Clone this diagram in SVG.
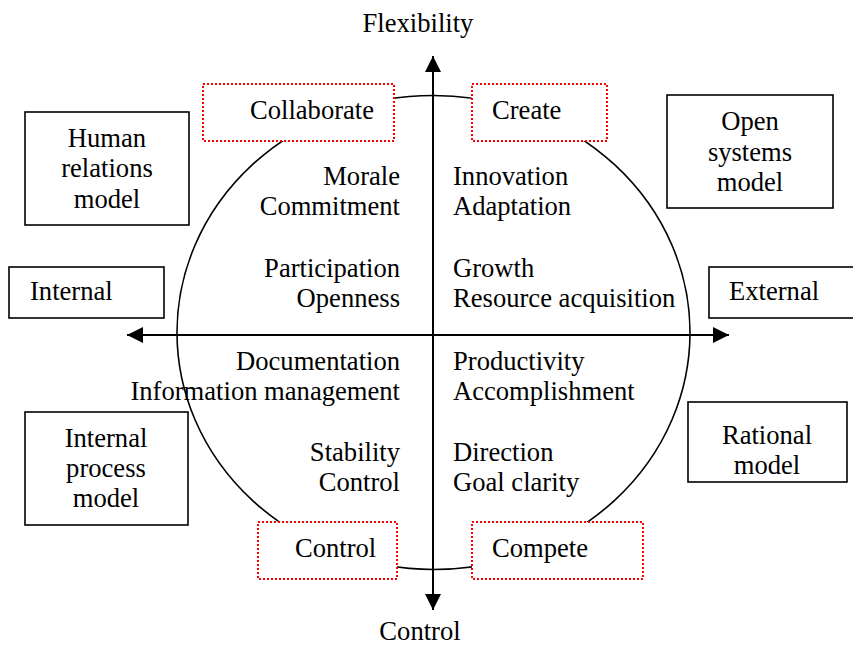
<svg xmlns="http://www.w3.org/2000/svg" width="853" height="645" viewBox="0 0 853 645">
<style>
text{font-family:'Liberation Serif',Tinos,'Times New Roman',Times,'DejaVu Serif',serif;font-size:26.6px;fill:#000}
.box{fill:#fff;stroke:#000;stroke-width:1.6}
.dot{fill:#fff;stroke:#ff0000;stroke-width:2;stroke-dasharray:2 2}
.r{text-anchor:end}
.m{text-anchor:middle}
.axis{stroke:#000;stroke-width:2;fill:none}
</style>
<defs>
<marker id="ah" markerUnits="userSpaceOnUse" markerWidth="18" markerHeight="18" refX="16" refY="8" orient="auto">
<path d="M0,0 L16,8 L0,16 Z" fill="#000"/>
</marker>
</defs>
<rect width="853" height="645" fill="#fff"/>
<ellipse id="circle" cx="433.5" cy="332.5" rx="256.5" ry="237" fill="none" stroke="#000" stroke-width="1.6"/>
<g id="connectors">
<line class="axis" x1="433" y1="335" x2="433" y2="56" marker-end="url(#ah)"/>
<line class="axis" x1="433" y1="335" x2="433" y2="610" marker-end="url(#ah)"/>
<line class="axis" x1="433" y1="335" x2="127" y2="335" marker-end="url(#ah)"/>
<line class="axis" x1="433" y1="335" x2="729" y2="335" marker-end="url(#ah)"/>
</g>
<g id="label-flexibility"><text class="m" x="418" y="32">Flexibility</text></g>
<g id="label-control-axis"><text class="m" x="420" y="640">Control</text></g>
<g id="collaborate"><rect class="dot" x="203" y="84" width="191" height="57"/><text x="250" y="119">Collaborate</text></g>
<g id="create"><rect class="dot" x="472" y="84" width="135" height="57"/><text x="492" y="119">Create</text></g>
<g id="control-box"><rect class="dot" x="258" y="522" width="139" height="57"/><text x="295" y="557">Control</text></g>
<g id="compete"><rect class="dot" x="472" y="522" width="171" height="57"/><text x="492" y="557">Compete</text></g>
<g id="human-relations"><rect class="box" x="25" y="112" width="164" height="113"/>
<text class="m" x="107" y="147">Human</text><text class="m" x="107" y="177">relations</text><text class="m" x="107" y="208">model</text></g>
<g id="open-systems"><rect class="box" x="667" y="95" width="166" height="113"/>
<text class="m" x="750" y="130">Open</text><text class="m" x="750" y="161">systems</text><text class="m" x="750" y="191">model</text></g>
<g id="internal"><rect class="box" x="9" y="267" width="155" height="51"/><text x="30" y="300">Internal</text></g>
<g id="external"><rect class="box" x="709" y="267" width="160" height="51"/><text x="729" y="300">External</text></g>
<g id="internal-process"><rect class="box" x="25" y="412" width="163" height="113"/>
<text class="m" x="106" y="447">Internal</text><text class="m" x="106" y="477">process</text><text class="m" x="106" y="507">model</text></g>
<g id="rational"><rect class="box" x="688" y="402" width="159" height="80"/>
<text class="m" x="767" y="444">Rational</text><text class="m" x="767" y="474">model</text></g>
<g id="q-tl">
<text class="r" x="400" y="185">Morale</text><text class="r" x="400" y="215">Commitment</text>
<text class="r" x="400" y="277">Participation</text><text class="r" x="400" y="307">Openness</text></g>
<g id="q-tr">
<text x="453" y="185">Innovation</text><text x="453" y="215">Adaptation</text>
<text x="453" y="277">Growth</text><text x="453" y="307">Resource acquisition</text></g>
<g id="q-bl">
<text class="r" x="400" y="370">Documentation</text><text class="r" x="400" y="400">Information management</text>
<text class="r" x="400" y="461">Stability</text><text class="r" x="400" y="491">Control</text></g>
<g id="q-br">
<text x="453" y="370">Productivity</text><text x="453" y="400">Accomplishment</text>
<text x="453" y="461">Direction</text><text x="453" y="491">Goal clarity</text></g>
</svg>
